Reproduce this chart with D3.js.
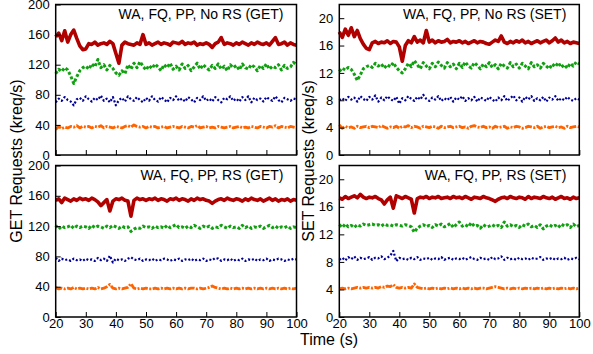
<!DOCTYPE html>
<html>
<head>
<meta charset="utf-8">
<script src="https://cdn.jsdelivr.net/npm/d3@7"></script>
<style>
  body { margin: 0; background: #fff; }
  text { font-family: "Liberation Sans", Arial, sans-serif; fill: #000; }
</style>
</head>
<body>
<div id="chart"></div>
<script>
// sample times: one point per second, 20..100 s
const time = d3.range(20, 101);
const xTicks = [20, 30, 40, 50, 60, 70, 80, 90, 100];
const getTicks = [0, 40, 80, 120, 160, 200];
const setTicks = [0, 4, 8, 12, 16, 20];

// GET, no request steering
const getNoRsRed = [157,162,152,165,150,160,166,155,145,140, 141,148,147,150,146,148,149,147,151,148,
  135,122,146,150,148,147,146,149,147,160, 147,149,146,148,150,147,149,148,146,150,
  149,148,151,147,149,148,150,146,148,147, 149,147,143,148,150,156,147,149,148,146,
  149,147,150,148,146,149,147,150,148,147, 149,146,151,156,147,148,150,146,149,147, 146];
const getNoRsGreen = [108,114,111,116,113,105,95,104,112,116, 118,114,121,117,127,116,120,113,119,115,
  109,106,112,108,120,114,122,116,124,118, 113,119,115,121,117,112,120,116,122,114,
  118,113,121,115,119,112,117,122,114,120, 116,113,119,115,121,114,118,112,120,116,
  119,113,121,116,114,120,117,112,119,115, 121,114,118,116,120,113,119,115,117,123, 120];
const getNoRsBlue = [70,75,72,77,73,71,66,74,76,72, 78,74,71,76,73,79,72,75,70,77,
  66,73,76,71,78,74,72,77,73,70, 76,72,78,73,71,77,74,70,76,73,
  78,72,75,71,77,74,70,76,73,78, 72,75,71,77,73,70,76,74,78,72,
  75,71,77,73,78,70,76,73,75,71, 77,74,72,78,73,70,76,74,72,75, 74];
const getNoRsOrange = [34,38,35,37,36,38,37,39,36,38, 37,38,36,38,37,39,36,38,37,36,
  38,37,36,38,39,37,40,38,37,38, 36,38,37,38,36,37,38,36,37,38,
  37,36,38,37,36,38,37,39,36,37, 38,36,37,36,38,37,36,37,38,36,
  37,38,36,37,36,38,37,36,38,37, 36,38,37,39,36,38,37,36,38,37, 36];

// SET, no request steering
const setNoRsRed = [18.0,17.2,18.4,17.5,18.6,17.3,18.2,17.0,16.2,15.6, 15.4,16.4,16.6,16.3,16.5,16.4,16.7,16.3,16.6,16.5,
  15.8,13.7,16.0,16.7,16.4,17.3,16.5,16.8,16.4,18.2, 16.5,16.8,16.4,16.7,16.5,16.6,16.9,16.4,16.6,16.5,
  16.7,16.4,16.6,16.3,16.5,16.7,16.4,16.6,16.5,16.3, 16.2,16.5,16.8,16.6,17.4,16.5,16.3,16.6,16.4,16.7,
  16.5,16.8,16.4,16.6,16.3,16.5,16.7,16.4,16.6,16.8, 16.4,16.7,17.1,16.5,16.8,16.4,16.6,16.3,16.5,16.4, 16.3];
const setNoRsGreen = [12.2,12.7,12.4,12.8,12.5,11.8,10.9,11.7,12.6,12.9, 13.1,12.8,13.4,13.0,13.3,12.7,13.2,12.9,13.5,12.8,
  12.3,12.0,12.6,13.4,12.9,13.8,13.2,12.6,13.5,13.0, 12.6,13.4,12.9,13.6,13.1,12.7,13.5,12.9,13.3,12.6,
  13.4,12.8,13.6,13.0,12.7,13.5,13.1,12.6,13.3,12.9, 13.5,12.8,13.2,12.6,13.4,13.0,12.7,13.5,12.9,13.3,
  12.7,13.4,13.0,12.6,13.5,12.9,13.2,12.7,13.4,13.0, 12.6,13.3,12.9,13.5,12.8,13.2,12.7,13.4,13.0,13.6, 13.3];
const setNoRsBlue = [8.0,8.3,7.9,8.5,8.1,8.4,7.8,8.6,8.2,7.9, 8.5,8.1,8.7,7.8,8.4,8.0,8.6,8.2,7.9,8.5,
  7.5,8.3,8.0,8.6,8.2,7.9,8.5,8.1,8.8,8.2, 7.9,8.4,8.1,8.6,7.9,8.3,8.0,8.5,7.8,8.4,
  8.1,8.6,7.9,8.3,8.0,8.5,7.8,8.4,8.2,7.9, 8.5,8.1,7.8,8.4,8.0,8.6,7.9,8.3,8.7,8.0,
  8.4,7.8,8.5,8.1,8.6,7.9,8.3,8.0,8.5,7.8, 8.4,8.1,8.6,7.9,8.3,8.0,8.5,8.1,7.9,8.3, 8.1];
const setNoRsOrange = [4.4,3.9,4.2,4.0,4.1,3.9,4.2,4.0,4.1,4.2, 4.0,4.2,4.1,4.0,4.3,4.1,3.9,4.1,4.0,4.2,
  3.9,4.2,4.1,4.3,4.0,4.2,4.1,3.9,4.2,4.1, 4.0,4.2,4.1,3.9,4.2,4.0,4.1,4.2,4.0,4.1,
  4.2,4.0,4.1,3.9,4.2,4.3,4.1,4.0,4.2,4.0, 4.1,3.9,4.2,4.0,4.1,4.2,3.9,4.1,4.0,4.2,
  4.1,3.9,4.0,4.2,4.1,4.0,4.2,3.9,4.1,4.2, 4.0,4.1,4.2,4.0,4.1,3.9,4.2,4.0,4.1,4.2, 4.1];

// GET, with request steering
const getRsRed = [154,156,151,157,155,153,156,154,157,155, 156,154,157,155,152,147,151,155,140,153,
  156,155,157,154,153,133,154,157,155,156, 154,156,155,157,154,156,155,153,156,155,
  157,154,156,155,153,156,154,157,155,156, 154,153,150,153,155,156,154,157,155,154,
  156,155,153,156,154,157,155,154,156,153, 155,157,154,156,153,155,154,156,153,155, 154];
const getRsGreen = [121,116,120,118,119,121,117,120,118,120, 119,117,121,118,120,119,117,120,118,121,
  119,117,120,118,119,113,116,118,117,120, 118,119,117,120,118,119,117,121,118,120,
  122,118,119,117,120,118,121,119,117,120, 118,120,117,119,118,121,119,117,120,118,
  119,117,121,118,120,117,119,118,120,117, 119,121,118,120,117,119,118,120,117,119, 118];
const getRsBlue = [78,74,77,75,76,74,77,75,76,74, 77,75,76,74,78,75,77,74,81,72,
  77,75,76,74,77,79,76,75,77,74, 76,75,77,74,76,75,77,76,74,76,
  75,77,74,76,75,77,74,76,75,77, 74,76,75,78,77,74,76,75,77,74,
  76,75,77,74,76,75,77,74,76,75, 77,74,76,75,77,76,74,76,75,77, 76];
const getRsOrange = [39,37,38,37,38,37,39,37,38,37, 38,37,38,37,39,37,38,40,43,38,
  37,38,37,38,39,44,38,37,38,37, 38,37,37,38,37,38,37,38,37,38,
  37,38,37,38,37,38,38,37,38,37, 38,39,41,39,38,37,38,37,38,37,
  38,37,38,37,38,37,38,37,38,37, 38,37,38,37,38,37,38,37,38,37, 38];

// SET, with request steering
const setRsRed = [17.3,17.1,17.5,17.2,17.4,17.6,17.3,17.8,17.4,17.2, 17.4,17.3,17.5,17.2,17.0,16.4,17.0,17.4,15.8,17.6,
  17.4,17.2,17.5,17.3,17.1,15.1,17.2,17.4,17.3,17.5, 17.2,17.4,17.3,17.5,17.2,17.3,17.4,17.2,17.5,17.3,
  17.4,17.2,17.5,17.3,17.1,17.4,17.3,17.2,17.5,17.3, 17.2,17.0,16.8,17.1,17.3,17.4,17.2,17.5,17.3,17.2,
  17.4,17.3,17.1,17.5,17.2,17.4,17.3,17.2,17.5,17.3, 17.2,17.4,17.1,17.3,17.5,17.2,17.3,17.1,17.4,17.2, 17.3];
const setRsGreen = [13.4,13.0,13.5,13.1,13.3,13.0,13.4,13.2,13.5,13.3, 13.4,13.5,13.3,13.4,13.2,13.5,13.3,13.4,13.2,13.4,
  13.3,13.2,13.4,13.3,13.1,12.3,12.9,13.2,13.4,13.1, 13.3,13.0,13.4,13.2,13.5,13.1,13.3,13.6,13.0,13.4,
  13.8,13.2,13.4,13.1,13.7,13.2,13.3,12.9,13.4,13.1, 13.2,13.4,13.1,13.3,13.0,13.8,13.2,13.4,13.1,13.3,
  13.0,13.4,13.2,13.5,13.1,13.3,13.0,13.4,12.8,13.2, 13.4,13.1,13.3,13.0,13.5,13.2,13.4,13.0,13.5,13.1, 13.3];
const setRsBlue = [8.3,8.6,8.2,8.7,8.4,8.8,8.3,8.6,8.4,8.5, 8.7,8.3,8.6,8.5,8.8,8.4,8.6,8.9,9.6,8.1,
  8.6,8.4,8.5,8.3,8.6,8.4,8.7,8.3,8.5,8.4, 8.6,8.3,8.5,8.4,8.7,8.3,8.5,8.6,8.3,8.5,
  8.4,8.6,8.3,8.5,8.7,8.4,8.3,8.6,8.4,8.5, 8.3,8.7,8.4,8.5,8.8,8.3,8.6,8.4,8.5,8.3,
  8.6,8.4,8.5,8.3,8.6,8.4,8.5,8.7,8.3,8.5, 8.4,8.6,8.3,8.5,8.4,8.6,8.3,8.5,8.4,8.6, 8.4];
const setRsOrange = [4.1,4.2,4.1,4.2,4.1,4.2,4.3,4.2,4.3,4.2, 4.3,4.2,4.3,4.2,4.4,4.3,4.5,4.4,4.7,4.3,
  4.2,4.3,4.2,4.3,4.2,4.8,4.3,4.2,4.1,4.2, 4.1,4.2,4.1,4.2,4.1,4.2,4.1,4.2,4.1,4.2,
  4.1,4.2,4.1,4.2,4.1,4.2,4.1,4.2,4.2,4.1, 4.2,4.3,4.4,4.3,4.2,4.1,4.2,4.1,4.2,4.1,
  4.2,4.1,4.2,4.1,4.2,4.1,4.2,4.1,4.2,4.1, 4.2,4.1,4.2,4.1,4.2,4.1,4.2,4.1,4.2,4.1, 4.2];

function buildChart() {
  const width = 593;
  const height = 354;

  const svg = d3.select("#chart")
    .append("svg")
    .attr("width", width)
    .attr("height", height);

  // line styles shared by every panel
  const styles = [
    { color: "#b00000", w: 3.6, dash: null },
    { color: "#10a010", w: 3, dash: "3,2" },
    { color: "#000096", w: 2.2, dash: "2,2" },
    { color: "#ff6400", w: 2.8, dash: "7,1.5,2,1.5" }
  ];

  const panels = [
    { x0: 55.7, x1: 296.5, y0: 4.5, y1: 155, max: 200, ticks: getTicks, title: "WA, FQ, PP, No RS (GET)",
      series: [getNoRsRed, getNoRsGreen, getNoRsBlue, getNoRsOrange], xLabels: false },
    { x0: 339.3, x1: 579.3, y0: 4.5, y1: 155, max: 22, ticks: setTicks, title: "WA, FQ, PP, No RS (SET)",
      series: [setNoRsRed, setNoRsGreen, setNoRsBlue, setNoRsOrange], xLabels: false },
    { x0: 55.7, x1: 296.5, y0: 165.5, y1: 317, max: 200, ticks: getTicks, title: "WA, FQ, PP, RS (GET)",
      series: [getRsRed, getRsGreen, getRsBlue, getRsOrange], xLabels: true },
    { x0: 339.3, x1: 579.3, y0: 165.5, y1: 317, max: 22, ticks: setTicks, title: "WA, FQ, PP, RS (SET)",
      series: [setRsRed, setRsGreen, setRsBlue, setRsOrange], xLabels: true }
  ];

  panels.forEach((p) => {
    const xScale = d3.scaleLinear().domain([20, 100]).range([p.x0, p.x1]);
    const yScale = d3.scaleLinear().domain([0, p.max]).range([p.y1, p.y0]);

    // series lines
    const line = d3.line()
      .x((d, i) => xScale(time[i]))
      .y((d) => yScale(d));
    p.series.forEach((s, k) => {
      svg.append("path")
        .datum(s)
        .attr("d", line)
        .attr("fill", "none")
        .attr("stroke", styles[k].color)
        .attr("stroke-width", styles[k].w)
        .attr("stroke-dasharray", styles[k].dash)
        .attr("stroke-linejoin", "round");
    });

    // axes with inward ticks
    const xAxis = d3.axisBottom(xScale).tickValues(xTicks)
      .tickSizeInner(-5).tickSizeOuter(0).tickPadding(1.5)
      .tickFormat(p.xLabels ? d3.format("d") : "");
    const gx = svg.append("g")
      .attr("transform", `translate(0, ${p.y1})`)
      .call(xAxis);

    const yAxis = d3.axisLeft(yScale).tickValues(p.ticks)
      .tickSizeInner(-5).tickSizeOuter(0).tickPadding(6);
    const gy = svg.append("g")
      .attr("transform", `translate(${p.x0}, 0)`)
      .call(yAxis);

    [gx, gy].forEach((g) => {
      g.select(".domain").remove();
      g.selectAll("text").style("font-size", "13px").attr("fill", "#000");
      g.selectAll("line").attr("stroke", "#000").attr("stroke-width", 1);
    });

    // frame
    svg.append("rect")
      .attr("x", p.x0)
      .attr("y", p.y0)
      .attr("width", p.x1 - p.x0)
      .attr("height", p.y1 - p.y0)
      .attr("fill", "none")
      .attr("stroke", "#000")
      .attr("stroke-width", 1.5);

    svg.append("text")
      .attr("x", p.x1 - 13)
      .attr("y", p.y0 + 14)
      .attr("text-anchor", "end")
      .style("font-size", "14px")
      .text(p.title);
  });

  // axis titles
  svg.append("text")
    .attr("transform", "translate(21.5, 161) rotate(-90)")
    .attr("text-anchor", "middle")
    .style("font-size", "16px")
    .text("GET Requests (kreq/s)");

  svg.append("text")
    .attr("transform", "translate(313.5, 161) rotate(-90)")
    .attr("text-anchor", "middle")
    .style("font-size", "16px")
    .text("SET Requests (kreq/s)");

  svg.append("text")
    .attr("x", 329)
    .attr("y", 345)
    .attr("text-anchor", "middle")
    .style("font-size", "16px")
    .text("Time (s)");
}

window.onload = buildChart;
</script>
</body>
</html>
